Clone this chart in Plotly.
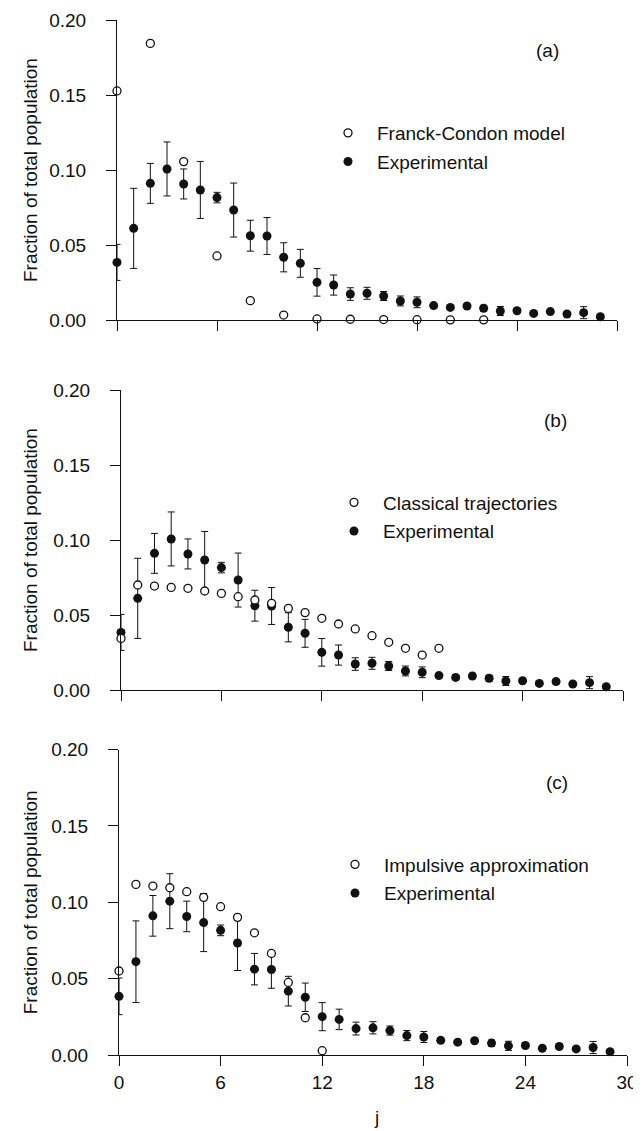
import plotly.graph_objects as go

# ---------------- data ----------------
j_exp = list(range(0, 30))
exp_vals = [0.0384, 0.0611, 0.0911, 0.1007, 0.0907, 0.0867, 0.0816, 0.0733, 0.0562, 0.0560,
            0.0418, 0.0378, 0.0251, 0.0233, 0.0173, 0.0178, 0.0160, 0.0127, 0.0118, 0.0096,
            0.0084, 0.0093, 0.0078, 0.0060, 0.0062, 0.0044, 0.0056, 0.0040, 0.0049, 0.0022]
exp_err = [0.0120, 0.0267, 0.0133, 0.0180, 0.0100, 0.0190, 0.0035, 0.0180, 0.0103, 0.0123,
           0.0097, 0.0093, 0.0092, 0.0067, 0.0042, 0.0040, 0.0030, 0.0033, 0.0036, 0.0015,
           0.0012, 0.0012, 0.0020, 0.0030, 0.0015, 0.0010, 0.0015, 0.0010, 0.0040, 0.0010]

j_fc = [0, 2, 4, 6, 8, 10, 12, 14, 16, 18, 20, 22]
fc_vals = [0.1527, 0.1844, 0.1056, 0.0427, 0.0129, 0.0033, 0.0007, 0.0005, 0.0003, 0.0002, 0.0001, 0.0001]

j_ct = list(range(0, 20))
ct_vals = [0.0344, 0.0700, 0.0693, 0.0684, 0.0678, 0.0660, 0.0644, 0.0622, 0.0600, 0.0578,
           0.0544, 0.0516, 0.0478, 0.0440, 0.0407, 0.0362, 0.0318, 0.0278, 0.0233, 0.0278]

j_ia = list(range(0, 13))
ia_vals = [0.0550, 0.1117, 0.1106, 0.1095, 0.1069, 0.1032, 0.0971, 0.0901, 0.0800, 0.0665,
           0.0475, 0.0244, 0.0028]

model_names = ["Franck-Condon model", "Classical trajectories", "Impulsive approximation"]
panel_labels = ["(a)", "(b)", "(c)"]
x_ticks = [0, 6, 12, 18, 24, 30]
y_ticks = [0.00, 0.05, 0.10, 0.15, 0.20]
y_title = "Fraction of total population"
x_title = "j"

# ---------------- layout geometry (reference-image pixels) ----------------
OFF = 8                      # page body margin in the browser
W, H = 641 - OFF, 1131 - OFF
panels_px = [  # x0, x1, ytop, ybottom
    (117, 617, 20, 320),
    (121, 623, 390, 690),
    (119, 627, 749.5, 1055),
]
label_px = [(547, 50), (555, 420), (557, 782)]
legend_px = [(319, 147.5), (325, 517), (326, 879)]
ytitle_x = 30
xtitle_px = (376, 1117)


def fx(px):
    return (px - OFF) / W


def fy(py):
    return 1 - (py - OFF) / H


FONT = "Liberation Sans, Arial, Helvetica, sans-serif"
FS = 19
INK = "#111111"

fig = go.Figure()
models = [(j_fc, fc_vals), (j_ct, ct_vals), (j_ia, ia_vals)]
for i in range(3):
    sfx = "" if i == 0 else str(i + 1)
    xa, ya = "x" + sfx, "y" + sfx
    leg = "legend" + sfx
    fig.add_trace(go.Scatter(
        x=j_exp, y=exp_vals, mode="markers", name="Experimental",
        xaxis=xa, yaxis=ya, legend=leg, legendrank=2, legendgroup="e%d" % i,
        marker=dict(symbol="circle", size=9, color=INK, line=dict(width=0)),
        error_y=dict(type="data", array=exp_err, visible=True, color=INK, thickness=1, width=3.5),
        cliponaxis=False,
    ))
    mx, my = models[i]
    fig.add_trace(go.Scatter(
        x=mx, y=my, mode="markers", name=model_names[i],
        xaxis=xa, yaxis=ya, legend=leg, legendrank=1, legendgroup="m%d" % i,
        marker=dict(symbol="circle", size=8, color="white", line=dict(width=1.3, color=INK)),
        cliponaxis=False,
    ))

layout = dict(
    template="none",
    width=W, height=H, margin=dict(l=0, r=0, t=0, b=0, autoexpand=False),
    paper_bgcolor="white", plot_bgcolor="white",
    font=dict(family=FONT, size=FS, color=INK),
    showlegend=True,
)
annotations = []
for i, (x0, x1, yt, yb) in enumerate(panels_px):
    sfx = "" if i == 0 else str(i + 1)
    last = (i == 2)
    layout["xaxis" + sfx] = dict(
        domain=[fx(x0), fx(x1)], anchor="y" + sfx, range=[0, 30], automargin=False,
        tickvals=x_ticks, showticklabels=last, ticks="outside", ticklen=10, tickwidth=1,
        tickcolor=INK, showline=True, linecolor=INK, linewidth=1, showgrid=False, zeroline=False,
        tickfont=dict(size=FS), ticklabeloverflow="allow",
    )
    layout["yaxis" + sfx] = dict(
        domain=[fy(yb), fy(yt)], anchor="x" + sfx, range=[0, 0.2], automargin=False,
        tickvals=y_ticks, tickformat=".2f", ticks="outside", ticklen=10, tickwidth=1,
        tickcolor=INK, showline=True, linecolor=INK, linewidth=1, showgrid=False, zeroline=False,
        tickfont=dict(size=FS), ticklabelstandoff=16,
    )
    lx, ly = legend_px[i]
    layout["legend" + sfx] = dict(
        x=fx(lx), y=fy(ly), xanchor="left", yanchor="middle",
        bgcolor="rgba(0,0,0,0)", borderwidth=0, itemwidth=48,
        traceorder="grouped", tracegroupgap=1, font=dict(size=FS, family=FONT, color=INK),
    )
    px, py = label_px[i]
    annotations.append(dict(
        text=panel_labels[i], x=fx(px), y=fy(py), xref="paper", yref="paper",
        xanchor="center", yanchor="middle", showarrow=False, font=dict(size=FS),
    ))
    annotations.append(dict(
        text=y_title, x=fx(ytitle_x), y=fy((yt + yb) / 2), xref="paper", yref="paper",
        xanchor="center", yanchor="middle", textangle=-90, showarrow=False, font=dict(size=FS),
    ))
annotations.append(dict(
    text=x_title, x=fx(xtitle_px[0]), y=fy(xtitle_px[1]), xref="paper", yref="paper",
    xanchor="center", yanchor="middle", showarrow=False, font=dict(size=FS),
))
layout["annotations"] = annotations
fig.update_layout(**layout)

fig.write_html("out.html")
